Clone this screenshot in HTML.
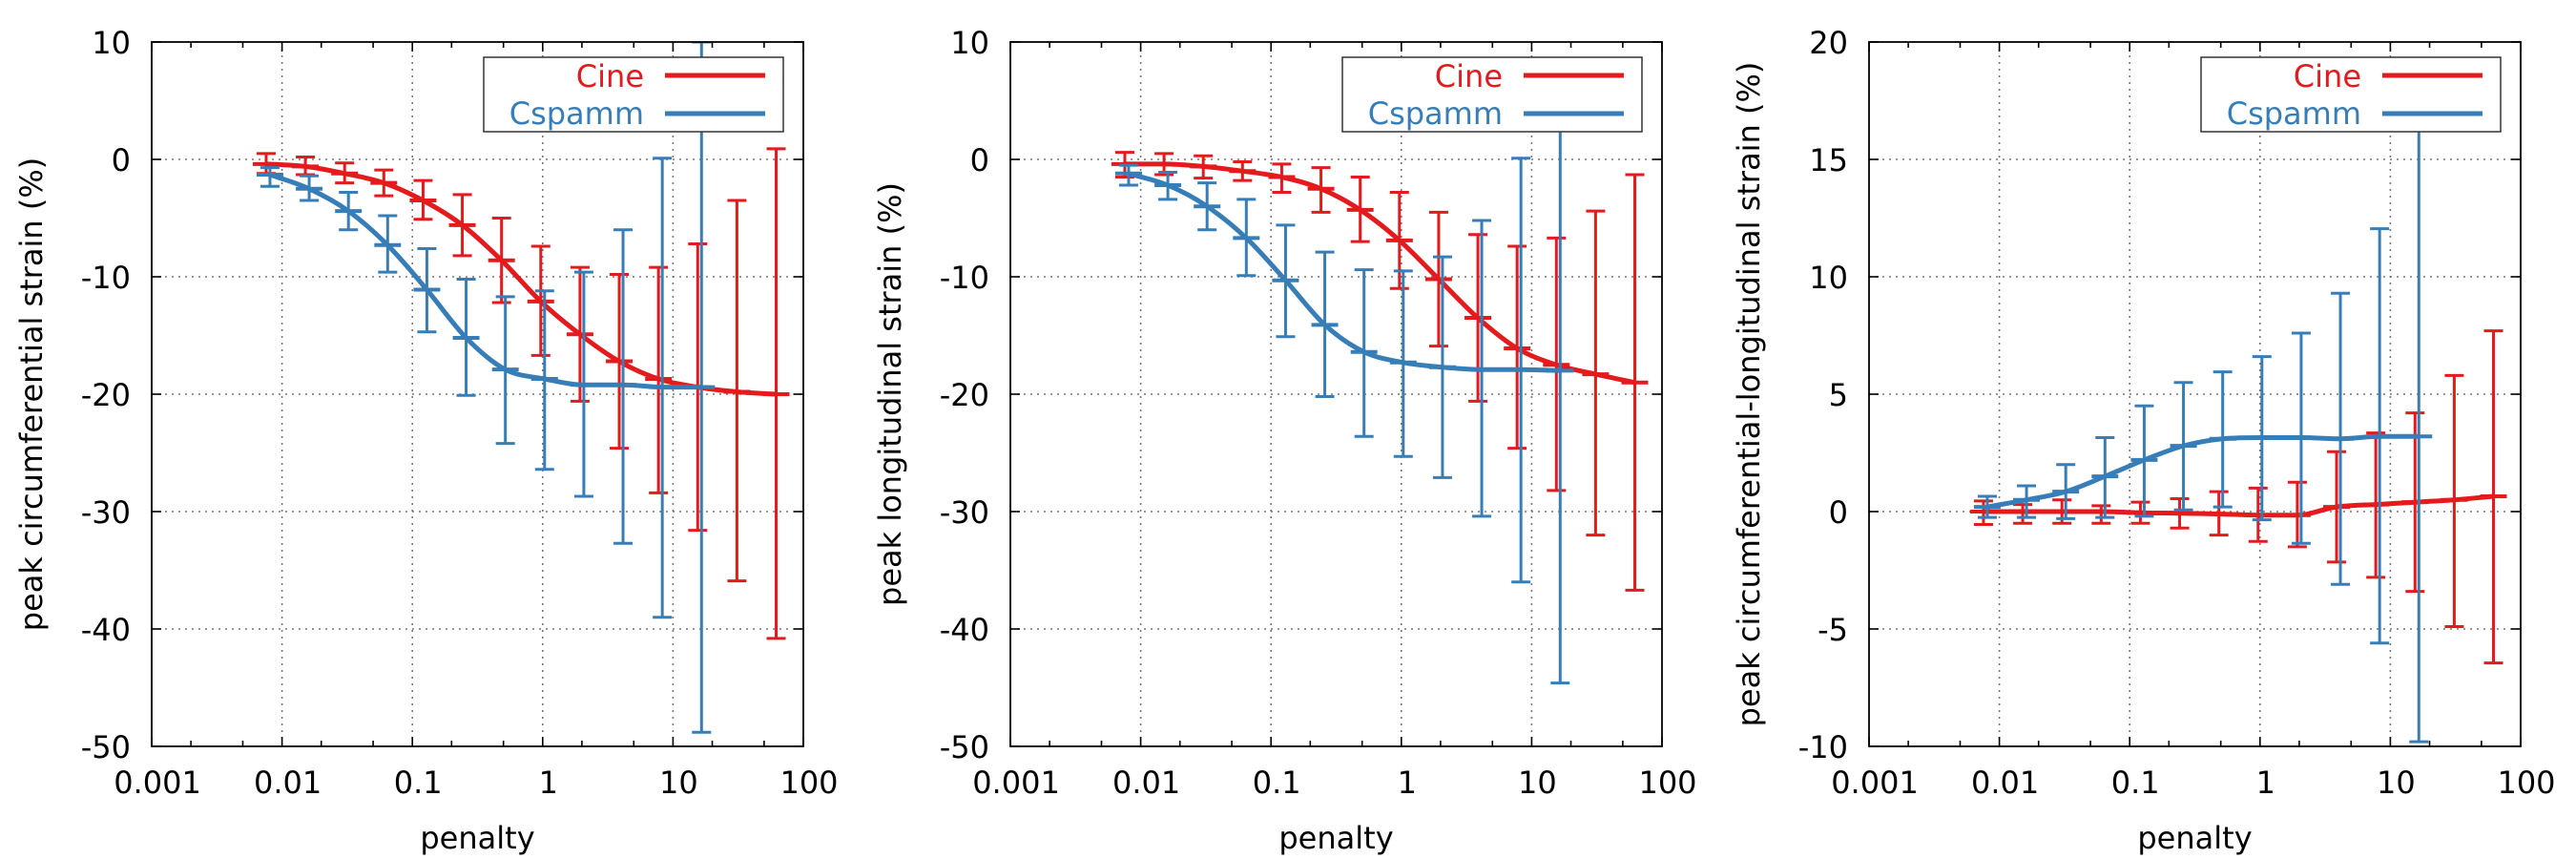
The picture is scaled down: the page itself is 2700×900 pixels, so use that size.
<!DOCTYPE html>
<html><head><meta charset="utf-8"><style>
html,body{margin:0;padding:0;background:#fff;}
svg{display:block;font-family:"DejaVu Sans","Liberation Sans",sans-serif;}
</style></head><body>
<svg id="fig" width="2700" height="900" viewBox="0 0 2700 900" xmlns="http://www.w3.org/2000/svg"></svg>
<script>
const penalties = [1/128,1/64,1/32,1/16,1/8,1/4,1/2,1,2,4,8,16,32,64];
const xTickLabels = ["0.001","0.01","0.1","1","10","100"];
// Panel 1: circumferential
const p1CineMean = [-0.4,-0.6,-1.2,-2.0,-3.5,-5.6,-8.6,-12.1,-14.9,-17.2,-18.7,-19.4,-19.8,-20.0];
const p1CineLo   = [-1.2,-1.3,-2.0,-3.1,-5.1,-8.2,-12.2,-16.7,-20.6,-24.6,-28.4,-31.6,-35.9,-40.8];
const p1CineHi   = [0.5,0.2,-0.3,-0.9,-1.8,-3.0,-5.0,-7.4,-9.2,-9.8,-9.2,-7.2,-3.5,0.9];
const p1SpMean = [-1.3,-2.5,-4.4,-7.3,-11.1,-15.2,-17.9,-18.7,-19.2,-19.2,-19.4,-19.4];
const p1SpLo   = [-2.3,-3.5,-6.0,-9.6,-14.7,-20.1,-24.2,-26.4,-28.7,-32.7,-39.0,-48.8];
const p1SpHi   = [-0.7,-1.4,-2.8,-4.8,-7.6,-10.2,-11.7,-11.2,-9.6,-6.0,0.1,10.0];
// Panel 2: longitudinal
const p2CineMean = [-0.4,-0.4,-0.6,-1.0,-1.5,-2.5,-4.3,-6.9,-10.2,-13.5,-16.1,-17.5,-18.3,-19.0];
const p2CineLo   = [-1.5,-1.3,-1.6,-1.8,-2.8,-4.5,-7.0,-11.0,-15.9,-20.6,-24.6,-28.2,-32.0,-36.7];
const p2CineHi   = [0.6,0.5,0.3,-0.2,-0.4,-0.7,-1.5,-2.8,-4.5,-6.4,-7.4,-6.7,-4.4,-1.3];
const p2SpMean = [-1.2,-2.2,-4.0,-6.7,-10.3,-14.1,-16.4,-17.3,-17.7,-17.9,-17.9,-18.0];
const p2SpLo   = [-2.2,-3.4,-6.0,-9.9,-15.1,-20.2,-23.6,-25.3,-27.1,-30.4,-36.0,-44.6];
const p2SpHi   = [-0.5,-1.1,-2.0,-3.4,-5.6,-7.9,-9.4,-9.5,-8.3,-5.2,0.1,8.5];
// Panel 3: circumferential-longitudinal
const p3CineMean = [0,0,0,0,-0.05,-0.07,-0.1,-0.15,-0.15,0.2,0.3,0.4,0.5,0.65];
const p3CineLo   = [-0.55,-0.5,-0.5,-0.5,-0.5,-0.7,-1.0,-1.27,-1.5,-2.15,-2.8,-3.4,-4.9,-6.45];
const p3CineHi   = [0.45,0.3,0.5,0.25,0.4,0.55,0.85,1.0,1.25,2.55,3.35,4.2,5.8,7.7];
const p3SpMean = [0.2,0.5,0.85,1.5,2.2,2.8,3.1,3.15,3.15,3.1,3.2,3.2];
const p3SpLo   = [-0.25,-0.25,-0.3,-0.25,-0.2,0.07,0.2,-0.35,-1.35,-3.1,-5.6,-9.8];
const p3SpHi   = [0.65,1.1,2.0,3.15,4.5,5.5,5.95,6.6,7.6,9.3,12.05,16.3];
const p1YTicks = [10,0,-10,-20,-30,-40,-50];
const p3YTicks = [20,15,10,5,0,-5,-10];

const NS="http://www.w3.org/2000/svg";
const svg=document.getElementById('fig');
const RED="#e41a1c", BLUE="#377eb8";
function mk(tag,attrs,parent){const e=document.createElementNS(NS,tag);for(const k in attrs)e.setAttribute(k,attrs[k]);(parent||svg).appendChild(e);return e;}

function smoothPath(pts){
  const n=pts.length; if(n<2) return "";
  const dx=[],dy=[],m=[];
  for(let i=0;i<n-1;i++){dx.push(pts[i+1][0]-pts[i][0]);dy.push(pts[i+1][1]-pts[i][1]);m.push(dy[i]/dx[i]);}
  const t=[m[0]];
  for(let i=1;i<n-1;i++){ if(m[i-1]*m[i]<=0)t.push(0); else t.push((m[i-1]+m[i])/2);}
  t.push(m[n-2]);
  for(let i=0;i<n-1;i++){ if(m[i]===0){t[i]=0;t[i+1]=0;continue;} const a=t[i]/m[i],b=t[i+1]/m[i],s=a*a+b*b; if(s>9){const tau=3/Math.sqrt(s);t[i]=tau*a*m[i];t[i+1]=tau*b*m[i];}}
  let d="M"+pts[0][0].toFixed(1)+","+pts[0][1].toFixed(1);
  for(let i=0;i<n-1;i++){const h=dx[i];
    d+=" C"+(pts[i][0]+h/3).toFixed(1)+","+(pts[i][1]+t[i]*h/3).toFixed(1)+" "+(pts[i+1][0]-h/3).toFixed(1)+","+(pts[i+1][1]-t[i+1]*h/3).toFixed(1)+" "+pts[i+1][0].toFixed(1)+","+pts[i+1][1].toFixed(1);}
  return d;
}

function panel(ox,name,ylabel,yTicks,ymin,ymax,series){
  const L=ox+159,R=ox+842,T=44,B=782;
  const g=mk('g',{});
  
  
  const xs=v=>L+(Math.log10(v)+3)/5*(R-L);
  const ys=v=>B-(v-ymin)/(ymax-ymin)*(B-T);
  const grid=mk('g',{},g);
  
  
  for(let e=-2;e<=1;e++){const x=xs(Math.pow(10,e));mk('line',{x1:x,x2:x,y1:T,y2:B,stroke:'#777','stroke-width':1.6,'stroke-dasharray':'2,5'},grid);}
  yTicks.forEach(v=>{if(v===ymin||v===ymax)return;const y=ys(v);mk('line',{x1:L,x2:R,y1:y,y2:y,stroke:'#777','stroke-width':1.6,'stroke-dasharray':'2,5'},grid);});
  const ticks=mk('g',{stroke:'#000','stroke-width':1.6},g);
  
  
  for(let e=-3;e<=2;e++){const x=xs(Math.pow(10,e));
    mk('line',{x1:x,x2:x,y1:B,y2:B-10},ticks);mk('line',{x1:x,x2:x,y1:T,y2:T+10},ticks);
    if(e<2)[2,5].forEach(k=>{const xm=xs(k*Math.pow(10,e));mk('line',{x1:xm,x2:xm,y1:B,y2:B-6},ticks);mk('line',{x1:xm,x2:xm,y1:T,y2:T+6},ticks);});
  }
  yTicks.forEach(v=>{const y=ys(v);mk('line',{x1:L,x2:L+10,y1:y,y2:y},ticks);mk('line',{x1:R,x2:R-10,y1:y,y2:y},ticks);});
  xTickLabels.forEach((s,i)=>{const t=mk('text',{x:xs(Math.pow(10,i-3))+6,y:831,'font-size':32,'text-anchor':'middle',fill:'#000'},g);t.textContent=s;
    });
  yTicks.forEach(v=>{const t=mk('text',{x:L-22,y:ys(v)+12,'font-size':32,'text-anchor':'end',fill:'#000'},g);t.textContent=String(v);
    });
  const xt=mk('text',{x:(L+R)/2,y:889,'font-size':32,'text-anchor':'middle',fill:'#000'},g);xt.textContent='penalty';
  
  const yt=mk('text',{x:0,y:0,'font-size':32,'text-anchor':'middle',fill:'#000',transform:'translate('+(ox+44)+','+((T+B)/2)+') rotate(-90)'},g);yt.textContent=ylabel;
  
  const clip='clip'+ox;
  const cp=mk('clipPath',{id:clip},g);mk('rect',{x:L,y:T,width:R-L,height:B-T},cp);
  series.forEach(s=>{
    const sg=mk('g',{'clip-path':'url(#'+clip+')'},g);
    
    
    const pts=s.mean.map((v,i)=>[xs(penalties[i])+s.off,ys(v)]);
    const p=mk('path',{d:smoothPath(pts),fill:'none',stroke:s.color,'stroke-width':5,'stroke-linejoin':'round'},sg);
    
    
    s.mean.forEach((v,i)=>{
      const x=xs(penalties[i])+s.off,ylo=ys(s.lo[i]),yhi=ys(s.hi[i]),ym=ys(v);
      const eb=mk('g',{stroke:s.color,'stroke-width':3},sg);
      
      
      mk('line',{x1:x,x2:x,y1:ylo,y2:yhi},eb);
      mk('line',{x1:x-10,x2:x+10,y1:ylo,y2:ylo},eb);
      mk('line',{x1:x-10,x2:x+10,y1:yhi,y2:yhi},eb);
      mk('line',{x1:x-14,x2:x+14,y1:ym,y2:ym,'stroke-width':4},eb);
    });
  });
  const fr=mk('rect',{x:L,y:T,width:R-L,height:B-T,fill:'none',stroke:'#000','stroke-width':1.8},g);
  
  const lg=mk('g',{},g);
  
  
  mk('rect',{x:ox+507,y:60,width:314,height:78,fill:'#fff',stroke:'#333','stroke-width':1.5},lg);
  [['Cine',RED,91,79],['Cspamm',BLUE,130,119]].forEach(e=>{
    const le=mk('g',{},lg);
    
    
    const t=mk('text',{x:ox+675,y:e[2],'font-size':32,'text-anchor':'end',fill:e[1]},le);t.textContent=e[0];
    mk('line',{x1:ox+697,x2:ox+802,y1:e[3],y2:e[3],stroke:e[1],'stroke-width':5},le);
  });
}

panel(0,'circumferential-panel','peak circumferential strain (%)',p1YTicks,-50,10,[
  {name:'cine',color:RED,mean:p1CineMean,lo:p1CineLo,hi:p1CineHi,off:-2},
  {name:'cspamm',color:BLUE,mean:p1SpMean,lo:p1SpLo,hi:p1SpHi,off:2}]);
panel(900,'longitudinal-panel','peak longitudinal strain (%)',p1YTicks,-50,10,[
  {name:'cine',color:RED,mean:p2CineMean,lo:p2CineLo,hi:p2CineHi,off:-2},
  {name:'cspamm',color:BLUE,mean:p2SpMean,lo:p2SpLo,hi:p2SpHi,off:2}]);
panel(1800,'difference-panel','peak circumferential-longitudinal strain (%)',p3YTicks,-10,20,[
  {name:'cine',color:RED,mean:p3CineMean,lo:p3CineLo,hi:p3CineHi,off:-2},
  {name:'cspamm',color:BLUE,mean:p3SpMean,lo:p3SpLo,hi:p3SpHi,off:2}]);
</script>
</body></html>
